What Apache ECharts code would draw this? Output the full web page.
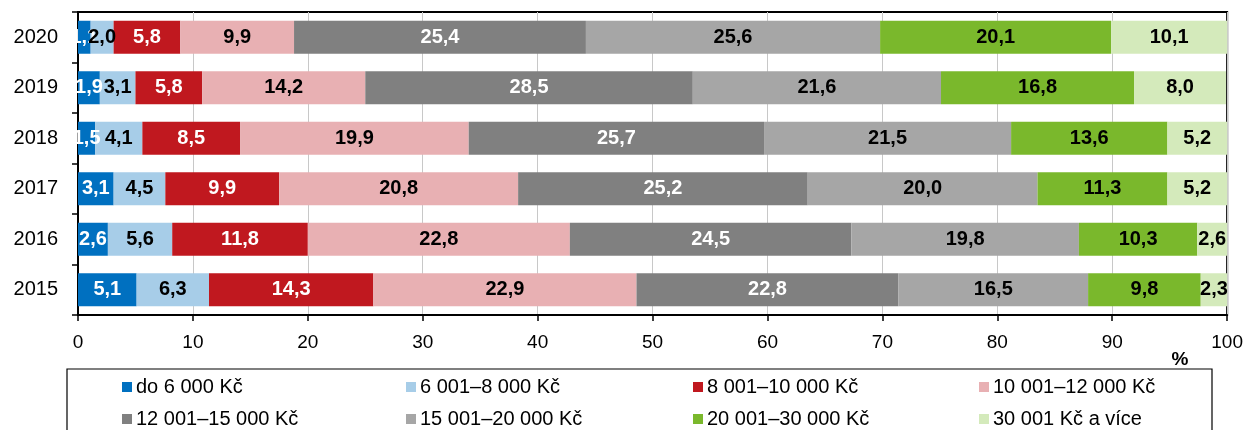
<!DOCTYPE html>
<html>
<head>
<meta charset="utf-8">
<script src="https://cdn.jsdelivr.net/npm/echarts@6/dist/echarts.min.js"></script>
<style>
  html, body { margin: 0; padding: 0; background: #fff; }
  #chart { width: 1246px; height: 430px; }
</style>
</head>
<body>
<div id="chart"></div>
<script>
const years = ['2015', '2016', '2017', '2018', '2019', '2020']
const xTicks = [0, 10, 20, 30, 40, 50, 60, 70, 80, 90, 100]

const names = [
  'do 6 000 Kč',
  '6 001–8 000 Kč',
  '8 001–10 000 Kč',
  '10 001–12 000 Kč',
  '12 001–15 000 Kč',
  '15 001–20 000 Kč',
  '20 001–30 000 Kč',
  '30 001 Kč a více'
]

// values per band, years 2015 .. 2020
const band1 = [5.1, 2.6, 3.1, 1.5, 1.9, 1.1]
const band2 = [6.3, 5.6, 4.5, 4.1, 3.1, 2.0]
const band3 = [14.3, 11.8, 9.9, 8.5, 5.8, 5.8]
const band4 = [22.9, 22.8, 20.8, 19.9, 14.2, 9.9]
const band5 = [22.8, 24.5, 25.2, 25.7, 28.5, 25.4]
const band6 = [16.5, 19.8, 20.0, 21.5, 21.6, 25.6]
const band7 = [9.8, 10.3, 11.3, 13.6, 16.8, 20.1]
const band8 = [2.3, 2.6, 5.2, 5.2, 8.0, 10.1]

const bands = [band1, band2, band3, band4, band5, band6, band7, band8]
const colors = ['#0070c0', '#a7cde8', '#c0181f', '#e8b0b3', '#808080', '#a6a6a6', '#7ab82c', '#d4eabb']
const labelColors = ['#fff', '#000', '#fff', '#000', '#fff', '#000', '#000', '#000']

const font = '"Liberation Sans", Arial, sans-serif'

const chart = echarts.init(document.getElementById('chart'))

const series = bands.map((data, i) => ({
  name: names[i],
  type: 'bar',
  stack: 'total',
  data,
  barWidth: 33,
  itemStyle: { color: colors[i] },
  label: {
    show: true,
    position: 'inside',
    color: labelColors[i],
    fontFamily: font,
    fontWeight: 'bold',
    fontSize: 20,
    formatter: p => p.value.toFixed(1).replace('.', ',')
  }
}))

// legend: 4 columns x 2 rows, one legend per item so nothing wraps
const legendCols = [122, 406, 693, 979]
const legendRows = [376, 408]
const legend = names.map((name, i) => ({
  orient: 'horizontal',
  left: legendCols[i % 4],
  top: legendRows[Math.floor(i / 4)],
  padding: 0,
  itemWidth: 10,
  itemHeight: 10,
  icon: 'rect',
  selectedMode: false,
  data: [name],
  textStyle: { fontFamily: font, fontSize: 20, color: '#000', lineHeight: 22, padding: [0, 0, 0, -1] }
}))

const option = {
  animation: false,
  color: colors,
  grid: {
    left: 78,
    right: 16,
    top: 12,
    bottom: 115,
    show: true,
    borderColor: '#000',
    borderWidth: 2,
    backgroundColor: 'transparent'
  },
  xAxis: {
    type: 'value',
    min: xTicks[0],
    max: xTicks[xTicks.length - 1],
    interval: 10,
    axisLine: { show: true, lineStyle: { color: '#000', width: 2 } },
    axisTick: { show: true, length: 6, lineStyle: { color: '#000', width: 1.5 } },
    splitLine: { show: true, lineStyle: { color: '#c8c8c8', width: 1 } },
    axisLabel: { color: '#000', fontFamily: font, fontSize: 19, margin: 18 }
  },
  yAxis: {
    type: 'category',
    data: years,
    axisLine: { show: true, lineStyle: { color: '#000', width: 2 } },
    axisTick: { show: true, length: 6, lineStyle: { color: '#000', width: 1.5 } },
    axisLabel: { color: '#000', fontFamily: font, fontSize: 20, margin: 20 }
  },
  legend,
  graphic: [
    {
      type: 'rect',
      shape: { x: 67, y: 369, width: 1145, height: 80 },
      style: { fill: 'none', stroke: '#000', lineWidth: 1.2 },
      z: -1
    },
    {
      type: 'text',
      x: 1180,
      y: 360,
      style: {
        text: '%',
        fontFamily: font,
        fontWeight: 'bold',
        fontSize: 19,
        fill: '#000',
        align: 'center',
        verticalAlign: 'middle'
      }
    }
  ],
  series
}

chart.setOption(option)
</script>
</body>
</html>
